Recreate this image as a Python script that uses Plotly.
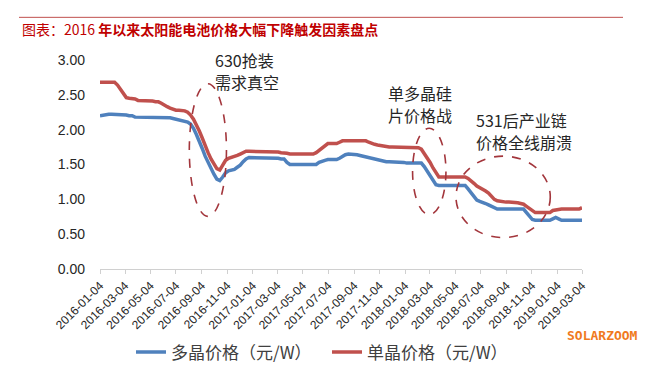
import plotly.graph_objects as go
import pandas as pd

# ---------------- data ----------------
start_date = "2016-01-04"
n_weeks = 166
dates = pd.date_range(start_date, periods=n_weeks, freq="7D")

multi_price = [
    2.20, 2.21, 2.22, 2.22, 2.22, 2.22, 2.22, 2.22, 2.21,
    2.21, 2.20, 2.20,
    2.18, 2.18, 2.18, 2.18, 2.18, 2.17, 2.17, 2.17, 2.17, 2.17, 2.17, 2.17, 2.17,
    2.16,
    2.15, 2.14, 2.13, 2.13,
    2.11, 2.08, 2.02, 1.93, 1.84, 1.73, 1.62, 1.53, 1.44, 1.36, 1.29, 1.27,
    1.32, 1.38, 1.41, 1.42, 1.43, 1.46, 1.49, 1.54, 1.58,
    1.60, 1.60, 1.60, 1.60, 1.60, 1.59, 1.59, 1.59, 1.59, 1.59, 1.59, 1.58, 1.58,
    1.53,
    1.50, 1.50, 1.50, 1.50, 1.50, 1.50, 1.50, 1.50, 1.50, 1.50,
    1.53, 1.55, 1.56,
    1.57, 1.57, 1.57, 1.57,
    1.59, 1.62,
    1.64, 1.65, 1.65, 1.65, 1.64, 1.63,
    1.62, 1.61, 1.60, 1.58, 1.57, 1.56, 1.55,
    1.54, 1.54, 1.54, 1.54, 1.54,
    1.53, 1.53, 1.53, 1.52, 1.52, 1.52, 1.52, 1.52, 1.52,
    1.47, 1.40, 1.33, 1.26, 1.21,
    1.20, 1.20, 1.20, 1.20, 1.20, 1.20, 1.20, 1.20, 1.20, 1.20,
    1.15, 1.10, 1.04, 0.99, 0.97, 0.96, 0.94, 0.92, 0.90, 0.88,
    0.86, 0.86, 0.86, 0.86, 0.86, 0.86, 0.86, 0.86, 0.86, 0.86,
    0.81, 0.76, 0.71,
    0.70, 0.70, 0.70, 0.70, 0.70, 0.70,
    0.72, 0.74, 0.72,
    0.70, 0.70, 0.70, 0.70, 0.70, 0.70, 0.70, 0.70,
]

mono_price = [
    2.68, 2.68, 2.68, 2.68, 2.68, 2.68,
    2.64, 2.58, 2.50,
    2.46, 2.45, 2.45, 2.44,
    2.42, 2.42, 2.41, 2.41, 2.41, 2.41, 2.40, 2.40,
    2.38, 2.35, 2.33, 2.31,
    2.29, 2.28, 2.28, 2.28, 2.27,
    2.25, 2.21, 2.15, 2.07, 1.98, 1.88, 1.76, 1.67, 1.58, 1.50, 1.44, 1.42,
    1.50, 1.56, 1.59, 1.60, 1.61, 1.63, 1.65, 1.67,
    1.69, 1.69, 1.69, 1.69, 1.68, 1.68, 1.68, 1.68, 1.68, 1.68, 1.68, 1.68, 1.67, 1.67,
    1.66,
    1.65, 1.65, 1.65, 1.65, 1.65, 1.65, 1.65, 1.65, 1.65,
    1.67, 1.70, 1.73, 1.76,
    1.80, 1.80, 1.80, 1.80,
    1.82,
    1.84, 1.84, 1.84, 1.84, 1.84, 1.84, 1.84, 1.84, 1.84,
    1.82, 1.80, 1.79, 1.78, 1.77, 1.76,
    1.75, 1.75, 1.75, 1.75, 1.75, 1.75, 1.75, 1.75, 1.74, 1.74, 1.74, 1.74,
    1.72, 1.66, 1.60, 1.53, 1.45, 1.38,
    1.32, 1.32, 1.32, 1.32, 1.32, 1.32, 1.32, 1.32, 1.32, 1.32,
    1.30, 1.27, 1.23, 1.19, 1.17, 1.14, 1.12, 1.09, 1.05, 1.00,
    0.98, 0.97, 0.97, 0.96, 0.96, 0.96, 0.96, 0.95,
    0.94, 0.93, 0.90, 0.87, 0.84,
    0.81, 0.81, 0.81, 0.81, 0.81, 0.81,
    0.84,
    0.85, 0.85, 0.86, 0.86, 0.86, 0.86, 0.86, 0.86,
    0.86, 0.88,
]

series_names = ["多晶价格（元/W）", "单晶价格（元/W）"]
tick_dates = [
    "2016-01-04", "2016-03-04", "2016-05-04", "2016-07-04", "2016-09-04",
    "2016-11-04", "2017-01-04", "2017-03-04", "2017-05-04", "2017-07-04",
    "2017-09-04", "2017-11-04", "2018-01-04", "2018-03-04", "2018-05-04",
    "2018-07-04", "2018-09-04", "2018-11-04", "2019-01-04", "2019-03-04",
]
y_ticks = [0, 0.5, 1.0, 1.5, 2.0, 2.5, 3.0]

title_plain = "图表：2016 "
title_bold = "年以来太阳能电池价格大幅下降触发因素盘点"
note_lines = [
    ("630抢装", "需求真空"),
    ("单多晶硅", "片价格战"),
    ("531后产业链", "价格全线崩溃"),
]
watermark = "SOLARZOOM"

# ---------------- layout geometry ----------------
W, H = 652, 374
ML, MR, MT, MB = 92, 78, 52, 104
PW, PH = W - ML - MR, H - MT - MB
Y_MAX = 3.0


def pxx(px):
    return (px - ML) / PW


def pxy(py):
    return (H - MB - py) / PH


BLUE = "#4f81bd"
RED = "#c0504d"
DASH = "#a3363c"
TXT = "#262626"

fig = go.Figure()
fig.add_trace(go.Scatter(x=dates, y=multi_price, mode="lines", name=series_names[0],
                         line=dict(color=BLUE, width=3.5)))
fig.add_trace(go.Scatter(x=dates, y=mono_price, mode="lines", name=series_names[1],
                         line=dict(color=RED, width=3.5)))

# dashed ellipses marking the events
ellipses = [
    ("2016-08-05", "2016-11-02", 0.755, 2.66),
    ("2018-01-22", "2018-04-12", 0.78, 2.02),
    ("2018-05-06", "2018-12-18", 0.45, 1.62),
]
for x0, x1, y0, y1 in ellipses:
    fig.add_shape(type="circle", xref="x", yref="y", x0=x0, x1=x1, y0=y0, y1=y1,
                  line=dict(color=DASH, width=1.6, dash="dash"))

# annotation text lines: (left date, pixel row of first line, spacing)
note_pos = [("2016-10-02", 51.5, 23), ("2017-11-21", 86.5, 23), ("2018-06-21", 115, 23)]
for (l1, l2), (nx, py, gap) in zip(note_lines, note_pos):
    for k, txt in enumerate((l1, l2)):
        fig.add_annotation(x=nx, y=pxy(py + k * gap), xref="x", yref="paper", text=txt,
                           showarrow=False, xanchor="left", yanchor="middle", align="left",
                           borderpad=0,
                           font=dict(size=16, color=TXT, family="Noto Sans CJK SC"))

# header rule and title
fig.add_shape(type="line", xref="paper", yref="paper", x0=pxx(11), x1=pxx(615),
              y0=pxy(7.5), y1=pxy(7.5), line=dict(color="#c0504d", width=1))

fig.add_annotation(xref="paper", yref="paper", x=pxx(12), y=pxy(20),
                   text=title_plain + "<b>" + title_bold + "</b>",
                   showarrow=False, xanchor="left", yanchor="middle",
                   font=dict(size=14, color="#c00000", family="Noto Sans CJK SC"))

fig.add_annotation(xref="paper", yref="paper", x=pxx(632), y=pxy(339), text="<b>" + watermark + "</b>",
                   showarrow=False, xanchor="right", yanchor="middle",
                   font=dict(size=13, color="#f07a1e", family="DejaVu Sans Mono"))

fig.update_layout(
    width=W, height=H,
    margin=dict(l=ML, r=MR, t=MT, b=MB),
    paper_bgcolor="white", plot_bgcolor="white",
    font=dict(family="Liberation Sans, Arial, sans-serif", color=TXT),
    showlegend=True,
    legend=dict(orientation="h", x=pxx(123), y=pxy(357), xanchor="left", yanchor="middle",
                font=dict(size=17, color="#404040", family="Noto Sans CJK SC"),
                entrywidth=151, entrywidthmode="pixels", bgcolor="rgba(0,0,0,0)"),
    xaxis=dict(type="date", range=[tick_dates[0], tick_dates[-1]],
               tickvals=tick_dates, ticktext=tick_dates, tickangle=-45,
               tickfont=dict(size=12, color="#262626"),
               showgrid=False, zeroline=False, showline=True, linecolor="#d0d0d0", linewidth=1,
               ticks="outside", ticklen=4, tickcolor="#d0d0d0"),
    yaxis=dict(range=[0, Y_MAX], tickvals=y_ticks, tickformat=".2f",
               tickfont=dict(size=14, color="#262626"),
               showgrid=False, zeroline=False, showline=False, ticks="",
               ticklabelstandoff=14),
)

fig.write_html("out.html")
